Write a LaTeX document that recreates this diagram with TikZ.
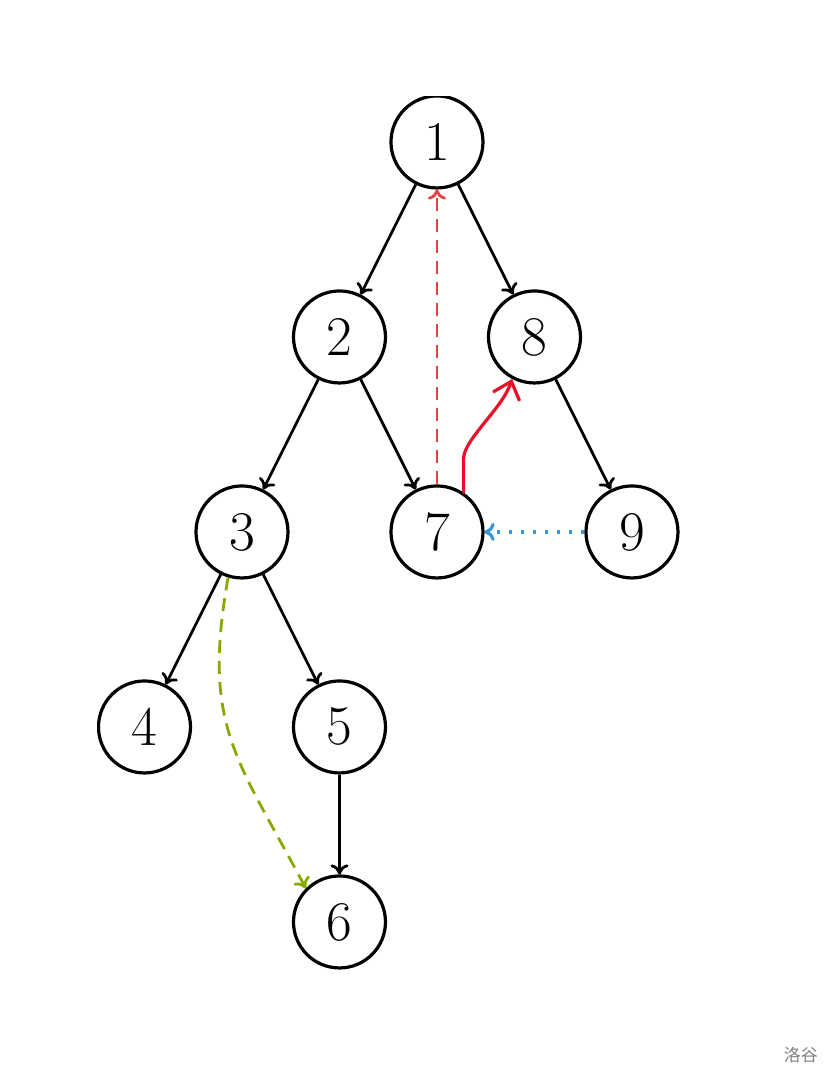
\documentclass[tikz,border=0pt]{standalone}
\usepackage{fontspec}
\newfontfamily\cjk{Noto Sans CJK SC}
\usetikzlibrary{arrows.meta}
\definecolor{backred}{RGB}{232,64,64}
\definecolor{handred}{RGB}{232,18,40}
\definecolor{crossblue}{RGB}{52,152,219}
\definecolor{fwdgreen}{RGB}{136,170,0}
\tikzset{
  vtx/.style={circle, draw, line width=1.6pt, minimum size=46pt, inner sep=0pt, font=\fontsize{28}{30}\selectfont},
  tree/.style={-{To[length=5pt,width=9pt]}, line width=1.4pt},
  backedge/.style={-{To[length=5pt,width=9pt]}, line width=1.4pt, backred, dash pattern=on 6.5pt off 4pt},
  fwdedge/.style={-{To[length=5pt,width=9pt]}, line width=1.4pt, fwdgreen, dash pattern=on 6.5pt off 4pt},
  crossedge/.style={-{To[length=5pt,width=9pt]}, line width=1.6pt, crossblue, dash pattern=on 1.5pt off 4.5pt},
  handline/.style={-{Straight Barb[length=8pt,width=14pt]}, line width=1.6pt, handred, line cap=round, line join=round}
}
\begin{document}
\begin{tikzpicture}[x=48.75pt,y=48.75pt]
\useasboundingbox (-4.482,1.456) rectangle (4.082,-9.621);
\begin{scope}
\clip (-3.487,0.462) rectangle (4.082,-9.621);
\foreach \name/\pos in {1/{(0,0)}, 2/{(-1,-2)}, 8/{(1,-2)}, 3/{(-2,-4)}, 7/{(0,-4)},
    9/{(2,-4)}, 4/{(-3,-6)}, 5/{(-1,-6)}, 6/{(-1,-8)}}
  \node[vtx] (n\name) at \pos {\name};
\foreach \a/\b in {1/2, 1/8, 2/3, 2/7, 8/9, 3/4, 3/5, 5/6}
  \draw[tree] (n\a) -- (n\b);
\draw[backedge] (n7) -- (n1);
\draw[crossedge] (n9) -- (n7);
\draw[fwdedge] (n3.-107) to[out=-100, in=118, looseness=1.2] (n6.135);
\draw[handline] (n7.56) -- ++(0,0.36) .. controls +(0.02,0.2) and +(-0.1,-0.3) .. (n8.-118);
\end{scope}
\node[font=\cjk\fontsize{8.5}{10}\selectfont, text=black!50, inner sep=0pt] (mark) at (3.733,-9.364) {洛谷};
\end{tikzpicture}
\end{document}
